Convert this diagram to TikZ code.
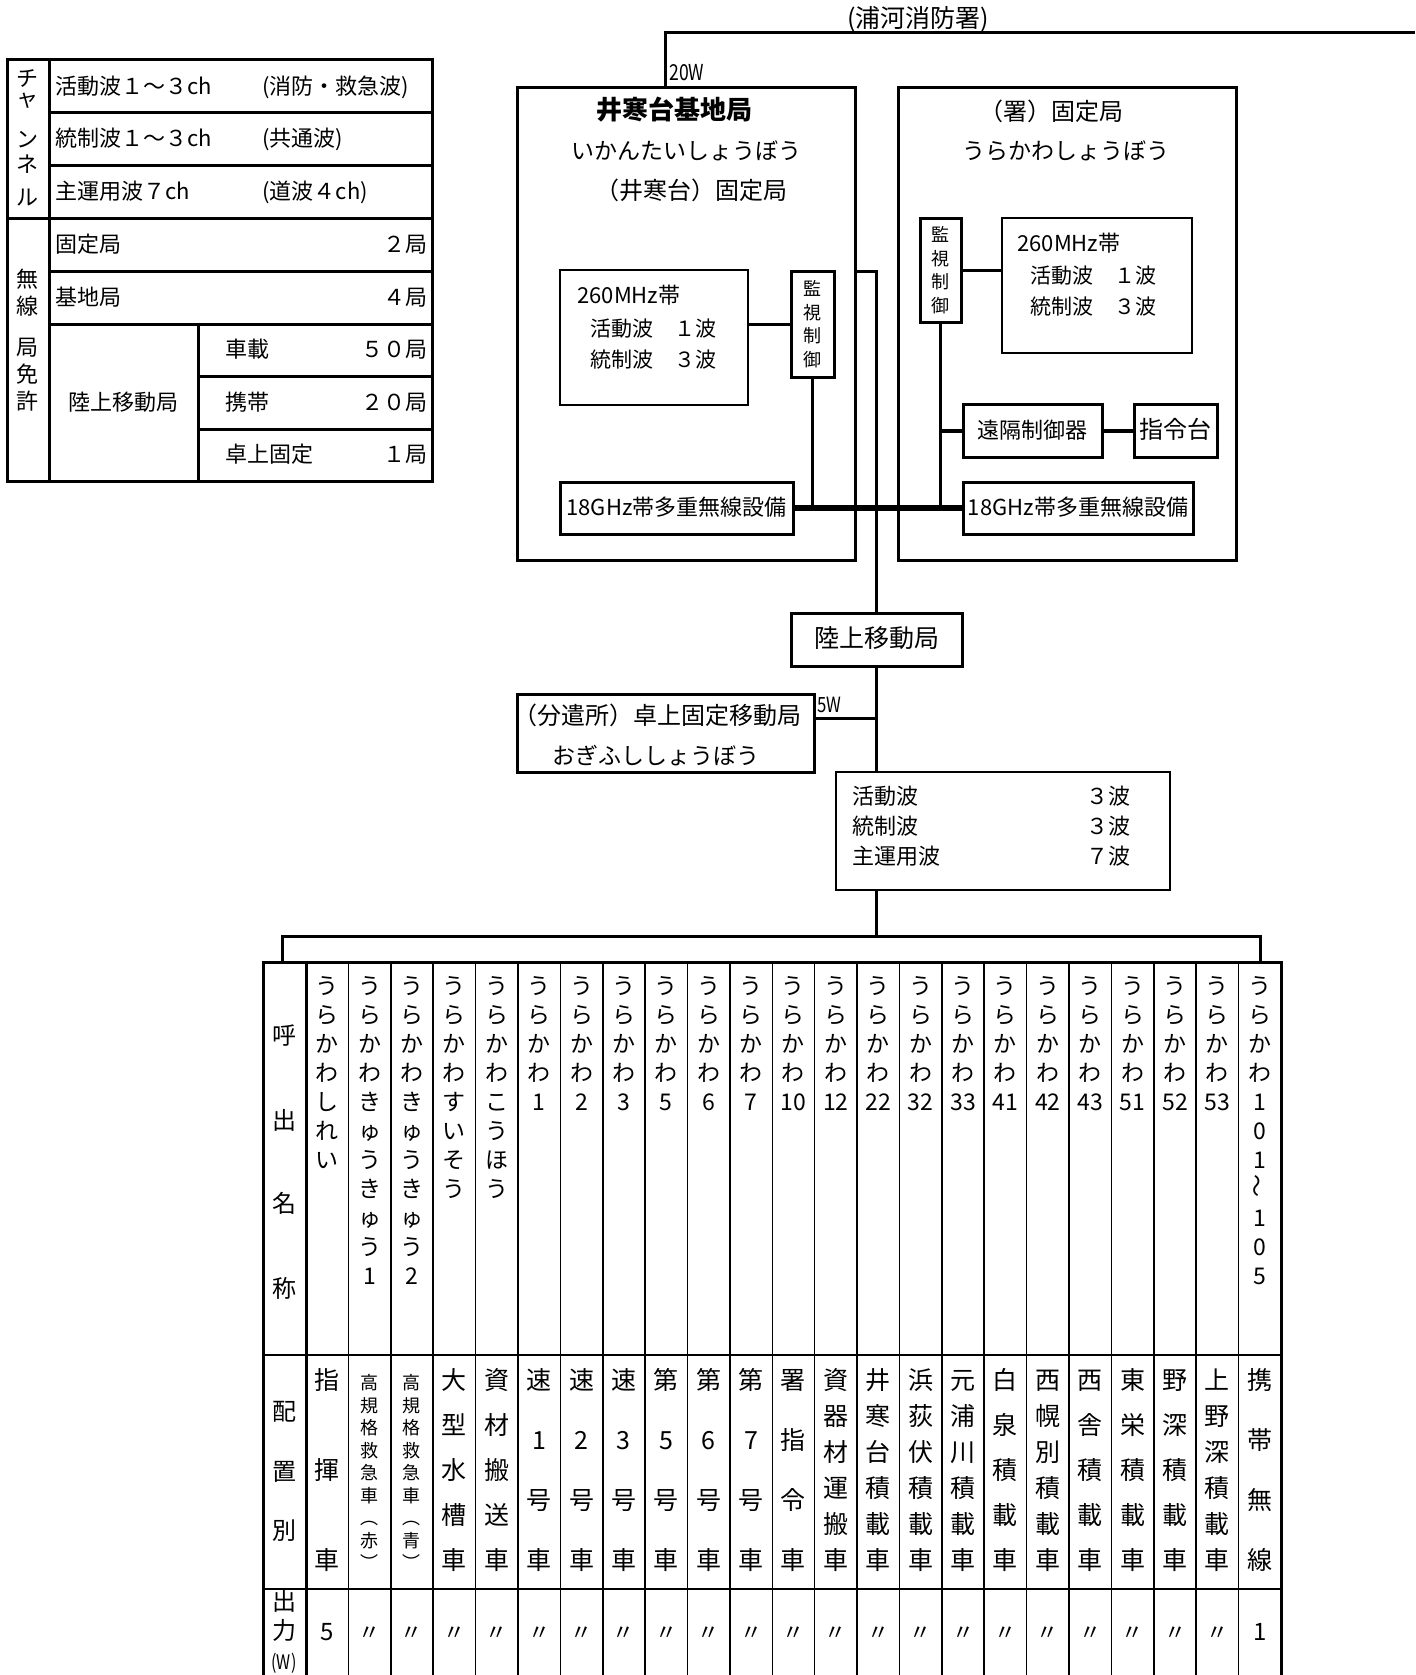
\documentclass[tikz,border=0pt]{standalone}
\usepackage{fontspec}
\setmainfont{Noto Sans CJK JP}
\newfontfamily\narrowfont[FakeStretch = 0.8]{Noto Sans CJK JP}
\usepackage{graphicx}
\usetikzlibrary{fit}

\newcounter{nch}
\newcommand\fsz[1]{\fontsize{#1}{#1}\selectfont}

\begin{document}
\begin{tikzpicture}[x = 0.5pt, y = -0.5pt,
	frame/.style = {draw, line width = 1.5pt, inner sep = 0pt},
	thinframe/.style = {draw, line width = 0.8pt, inner sep = 0pt},
	wire/.style = {line width = 1.5pt},
	midwire/.style = {line width = 2pt},
	bus/.style = {line width = 2.6pt},
	rule/.style = {line width = 0.8pt},
	cj/.style = {inner sep = 0pt, text height = 0.88em, text depth = 0.12em},
	kantext/.style = {inner sep = 0pt, align = center, font = \fontsize{9}{11.8}\selectfont}]

	% Page size
	
	\useasboundingbox (0, 0) rectangle (1415, 1675);
	\clip (0, 0) rectangle (1415, 1675);
	
	% Channel and licence table
	
	\begin{scope}[wire]
	
		\draw (7, 60) rectangle (432, 481);
		\draw (49, 60) -- (49, 481);
		\foreach \y in {113, 165, 271, 324}
			\draw (49, \y) -- (432, \y);
		\draw (7, 218) -- (432, 218);
		\draw (198, 324) -- (198, 481);
		\foreach \y in {376, 429}
			\draw (198, \y) -- (432, \y);
			
	\end{scope}
	
	\node [cj, font = \fsz{11}] (chl1) at (28, 79) {チ};
	\node [inner sep = 0pt, font = \fsz{11}] (chl2) at (28, 101) {ャ};
	\foreach \c/\y [count = \i from 3] in {ン/140, ネ/165, ル/198}
		\node [cj, font = \fsz{11}] (chl\i) at (28, \y) {\c};
	\foreach \c/\y [count = \i] in {無/280, 線/307, 局/348, 免/375, 許/402}
		\node [cj, font = \fsz{11}] (lic\i) at (28, \y) {\c};
	
	\begin{scope}[every node/.style = {cj, font = \fsz{11}}]
	
		\node [anchor = west] (chA) at (55, 86.5) {活動波１～３ch};
		\node [anchor = west] (chAn) at (262, 86.5) {(消防・救急波)};
		\node [anchor = west] (chB) at (55, 139) {統制波１～３ch};
		\node [anchor = west] (chBn) at (262, 139) {(共通波)};
		\node [anchor = west] (chC) at (55, 191.5) {主運用波７ch};
		\node [anchor = west] (chCn) at (262, 191.5) {(道波４ch)};
		
		\node [anchor = west] (stF) at (55, 244.5) {固定局};
		\node [anchor = east] (stFn) at (428, 244.5) {２局};
		\node [anchor = west] (stB) at (55, 297.5) {基地局};
		\node [anchor = east] (stBn) at (428, 297.5) {４局};
		\node (stM) at (123, 402.5) {陸上移動局};
		\node [anchor = west] (stV) at (225, 350) {車載};
		\node [anchor = east] (stVn) at (428, 350) {５０局};
		\node [anchor = west] (stP) at (225, 402.5) {携帯};
		\node [anchor = east] (stPn) at (428, 402.5) {２０局};
		\node [anchor = west] (stD) at (225, 455) {卓上固定};
		\node [anchor = east] (stDn) at (428, 455) {１局};
		
	\end{scope}
	
	% Station boxes
	
	\node [frame, fit = {(517, 88) (855, 560)}] (bigL) {};
	\node [frame, fit = {(898, 88) (1236, 560)}] (bigR) {};
	
	\node [cj, font = \fsz{13}\bfseries] (nameL) at (674, 112) {井寒台基地局};
	\node [cj, font = \fsz{11.5}] (kanaL) at (686, 152) {いかんたいしょうぼう};
	\node [cj, font = \fsz{12}] (fixL) at (691, 192) {（井寒台）固定局};
	\node [cj, font = \fsz{12}] (fixR) at (1051, 113) {（署）固定局};
	\node [cj, font = \fsz{11.5}] (kanaR) at (1066, 152) {うらかわしょうぼう};
	
	% 260 MHz sets
	
	\node [thinframe, fit = {(560, 270) (748, 405)}] (rfL) {};
	\node [thinframe, fit = {(1002, 218) (1192, 353)}] (rfR) {};
	
	\begin{scope}[every node/.style = {cj, anchor = west, font = \fsz{10.5}}]
	
		\node [font = \fsz{11}] (bandL) at (577, 296) {260MHz帯};
		\node (actL) at (590, 329) {活動波　１波};
		\node (ctlL) at (590, 360) {統制波　３波};
		\node [font = \fsz{11}] (bandR) at (1017, 244) {260MHz帯};
		\node (actR) at (1030, 276) {活動波　１波};
		\node (ctlR) at (1030, 307) {統制波　３波};
		
	\end{scope}
	
	% Control units and links
	
	\node [frame, fit = {(791, 271) (834, 377)}] (kanL) {};
	\node [frame, fit = {(920, 218) (961, 322)}] (kanR) {};
	\node [frame, fit = {(560, 482) (793, 534)}] (mwL) {};
	\node [frame, fit = {(963, 482) (1193, 534)}] (mwR) {};
	\node [frame, fit = {(963, 404) (1102, 457)}] (remote) {};
	\node [frame, fit = {(1134, 404) (1217, 457)}] (cmd) {};
	
	\node [kantext] (kanLt) at (kanL) {監\\視\\制\\御};
	\node [kantext] (kanRt) at (kanR) {監\\視\\制\\御};
	\node [cj, font = \fsz{11}] (mwLt) at (mwL) {18GHz帯多重無線設備};
	\node [cj, font = \fsz{11}] (mwRt) at (mwR) {18GHz帯多重無線設備};
	\node [cj, font = \fsz{11}] (remotet) at (remote) {遠隔制御器};
	\node [cj, font = \fsz{12}] (cmdt) at (cmd) {指令台};
	
	\draw [wire] (rfL.east |- kanL) -- (kanL.west);
	\draw [wire] (kanL.south) -- (kanL.south |- mwL.east);
	\draw [wire] (kanR.east) -- (kanR.east -| rfR.west);
	\draw [wire] (kanR.south) -- (kanR.south |- mwR.west);
	\draw [midwire] (kanR.south |- remote.west) -- (remote.west);
	\draw [midwire] (remote.east) -- (cmd.west);
	\draw [bus] (mwL.east) -- (mwR.west);
	
	% Top line with the 20 W feed
	
	\node [cj, font = \fsz{12.5}] (hq) at (918, 20) {(浦河消防署)};
	\coordinate (topR) at (1415, 33);
	\coordinate (topL) at (665, 33);
	\draw [wire] (topR) -- (topL) -- (topL |- bigL.north);
	\node [anchor = base west, inner sep = 0pt, font = \narrowfont\fsz{11}] (pw20) at (669, 81) {20W};
	
	% Land mobile station and the desk station
	
	\node [frame, fit = {(791, 613) (962, 666)}] (land) {};
	\node [cj, font = \fsz{12.5}] (landt) at (land) {陸上移動局};
	\node [frame, fit = {(517, 694) (814, 772)}] (desk) {};
	\node [cj, font = \fsz{12}] (deskA) at (657, 717) {（分遣所）卓上固定移動局};
	\node [cj, font = \fsz{11.5}] (deskB) at (656, 757) {おぎふししょうぼう};
	\node [anchor = base west, inner sep = 0pt, font = \narrowfont\fsz{10.5}] (pw5) at (817, 712) {5W};
	
	\coordinate (tap) at (876.5, 271);
	\draw [wire] (bigL.east |- tap) -- (tap) -- (tap |- land.north);
	
	% Channel count box
	
	\node [thinframe, fit = {(836, 772) (1170, 890)}] (wave) {};
	\foreach \w/\y [count = \i] in {活動波/797, 統制波/827, 主運用波/857}
		\node [cj, anchor = west, font = \fsz{11}] (wv\i) at (852, \y) {\w};
	\foreach \n/\y [count = \i] in {３/797, ３/827, ７/857}
		\node [cj, anchor = west, font = \fsz{11}] (wn\i) at (1086, \y) {\n 波};
	
	\draw [wire] (land.south) -- (land.south |- wave.north);
	\coordinate (tapD) at (876.5, 718);
	\draw [wire] (desk.east |- tapD) -- (tapD);
	
	% Bus to the vehicle table
	
	\coordinate (busL) at (282, 936);
	\coordinate (busR) at (1260, 936);
	\coordinate (tblTop) at (0, 962);
	\draw [wire] (wave.south -| land.south) -- (busL -| land.south);
	\draw [wire] (busL |- tblTop) -- (busL) -- (busR) -- (busR |- tblTop);
	
	% Vehicle table
	
	\def\cw{42.39}
	\def\tl{306}
	
	\begin{scope}[wire]
	
		\draw (263, 1680) -- (263, 962) -- (1281, 962) -- (1281, 1680);
		\draw (\tl, 962) -- (\tl, 1680);
		
	\end{scope}
	
	\begin{scope}[rule]
	
		\foreach \k in {1, ..., 22}
			\draw ({\tl + \k * \cw}, 962) -- ({\tl + \k * \cw}, 1680);
		\foreach \y in {1355, 1589}
			\draw (263, \y) -- (1281, \y);
			
	\end{scope}
	
	% Row heads
	
	\foreach \c/\y [count = \i] in {呼/1037, 出/1122, 名/1205, 称/1290, 配/1413, 置/1473, 別/1532, 出/1603, 力/1632}
		\node [cj, font = \fsz{12}] (hd\i) at (284, \y) {\c};
	\node [cj, font = \narrowfont\fsz{10}] (hdW) at (284, 1662) {(W)};
	
	% Call names
	
	\foreach \nm [count = \i] in {{う,ら,か,わ,し,れ,い}, {う,ら,か,わ,き,ゅ,う,き,ゅ,う,1}, {う,ら,か,わ,き,ゅ,う,き,ゅ,う,2}, {う,ら,か,わ,す,い,そ,う}, {う,ら,か,わ,こ,う,ほ,う}, {う,ら,か,わ,1}, {う,ら,か,わ,2}, {う,ら,か,わ,3}, {う,ら,か,わ,5}, {う,ら,か,わ,6}, {う,ら,か,わ,7}, {う,ら,か,わ,10}, {う,ら,か,わ,12}, {う,ら,か,わ,22}, {う,ら,か,わ,32}, {う,ら,か,わ,33}, {う,ら,か,わ,41}, {う,ら,か,わ,42}, {う,ら,か,わ,43}, {う,ら,か,わ,51}, {う,ら,か,わ,52}, {う,ら,か,わ,53}, {う,ら,か,わ,1,0,1,\rotatebox{90}{～},1,0,5}}
		\foreach \c [count = \j] in \nm
			\node [cj, font = \fsz{11.5}] (nm-\i-\j) at ({\tl + (\i - 0.5) * \cw}, {987 + 29 * (\j - 1)}) {\c};
	
	% Assignments, spread over the cell
	
	\foreach \nm [count = \i] in {{指,揮,車}, {高,規,格,救,急,車,︵,赤,︶}, {高,規,格,救,急,車,︵,青,︶}, {大,型,水,槽,車}, {資,材,搬,送,車}, {速,1,号,車}, {速,2,号,車}, {速,3,号,車}, {第,5,号,車}, {第,6,号,車}, {第,7,号,車}, {署,指,令,車}, {資,器,材,運,搬,車}, {井,寒,台,積,載,車}, {浜,荻,伏,積,載,車}, {元,浦,川,積,載,車}, {白,泉,積,載,車}, {西,幌,別,積,載,車}, {西,舎,積,載,車}, {東,栄,積,載,車}, {野,深,積,載,車}, {上,野,深,積,載,車}, {携,帯,無,線}} {
		\setcounter{nch}{0}
		\foreach \c in \nm {\stepcounter{nch}}
		\pgfmathsetmacro\pitch{180 / (\arabic{nch} - 1)}
		\ifnum\value{nch} > 6 \def\csz{9}\else\def\csz{12.5}\fi
		\foreach \c [count = \j] in \nm
			\node [cj, font = \fsz{\csz}] (as-\i-\j) at ({\tl + (\i - 0.5) * \cw}, {1382 + \pitch * (\j - 1)}) {\c};
	}
	
	% Output row
	
	\node [cj, font = \fsz{12}] (out1) at ({\tl + 0.5 * \cw}, 1633) {5};
	\foreach \i in {2, ..., 22}
		\node [cj, font = \fsz{11}] (out\i) at ({\tl + (\i - 0.5) * \cw}, 1633) {〃};
	\node [cj, font = \fsz{12}] (out23) at ({\tl + 22.5 * \cw}, 1633) {1};

\end{tikzpicture}
\end{document}
